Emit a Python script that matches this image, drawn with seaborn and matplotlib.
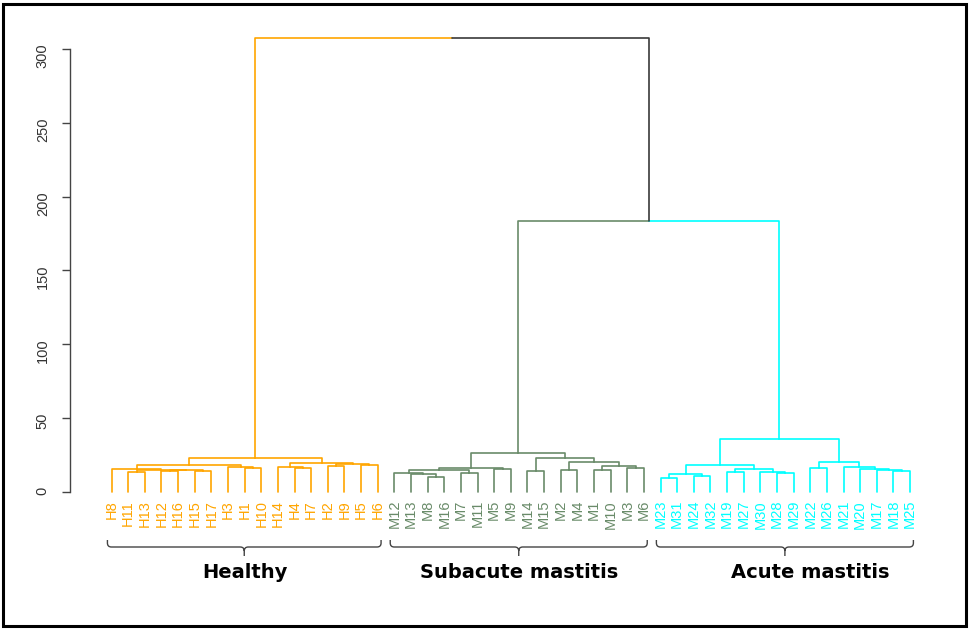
import numpy as np
import pandas as pd
import matplotlib
matplotlib.use("Agg")
import matplotlib.pyplot as plt
from matplotlib.path import Path
from matplotlib.patches import PathPatch, Rectangle
import seaborn as sns

# ---- data -------------------------------------------------------------
leaf_labels = [
    "H8", "H11", "H13", "H12", "H16", "H15", "H17", "H3", "H1", "H10",
    "H14", "H4", "H7", "H2", "H9", "H5", "H6",
    "M12", "M13", "M8", "M16", "M7", "M11", "M5", "M9", "M14", "M15",
    "M2", "M4", "M1", "M10", "M3", "M6",
    "M23", "M31", "M24", "M32", "M19", "M27", "M30", "M28", "M29", "M22",
    "M26", "M21", "M20", "M17", "M18", "M25",
]
group_names = ["Healthy", "Subacute mastitis", "Acute mastitis"]
group_sizes = [17, 16, 16]
group_colors = ["#FFA500", "#698B69", "#00FFFF"]
mixed_color = "#3a3a3a"

# Agglomeration steps: a child is a leaf label or the index of an earlier step
merge_left = [
    "H11", "H12", "H15", 1, 0, "H8", "H1", "H3", 5, "H4", "H14", "H2", "H5", 11, 10, 8,
    "M8", "M13", "M12", "M7", 18, "M5", 20, "M14", "M2", "M1", "M3", 25, 24, 23, 22,
    "M23", "M24", 31, "M19", "M28", "M30", 34, 33, "M22", "M18", "M17", "M20", "M21", 39, 38,
    30, 15,
]
merge_right = [
    "H13", "H16", "H17", 2, 3, 4, "H10", 6, 7, "H7", 9, "H9", "H6", 12, 13, 14,
    "M16", 16, 17, "M11", 19, "M9", 21, "M15", "M4", "M10", "M6", 26, 27, 28, 29,
    "M31", "M32", 32, "M27", "M29", 35, 36, 37, "M26", "M25", 40, 41, 42, 43, 44,
    45, 46,
]
merge_height = [
    13.8, 14.2, 14.3, 14.7, 15.1, 15.8, 16.0, 17.0, 18.5, 16.1, 17.1, 17.4, 18.2, 18.8, 19.5, 23.0,
    10.4, 12.0, 12.6, 12.8, 14.9, 15.4, 16.5, 14.2, 14.9, 14.6, 16.0, 17.8, 20.5, 23.0, 26.3,
    9.7, 10.8, 12.0, 13.3, 12.7, 13.8, 15.4, 18.3, 16.5, 14.2, 14.9, 15.6, 16.8, 20.0, 36.0,
    183.5, 307.3,
]
y_ticks = [0, 50, 100, 150, 200, 250, 300]

# ---- tree layout --------------------------------------------------------
leaf_group = np.repeat(np.arange(len(group_sizes)), group_sizes)
leaf_pos = {lab: i for i, lab in enumerate(leaf_labels)}


def node_info(ref, nx, ngroups):
    if isinstance(ref, str):
        return float(leaf_pos[ref]), 0.0, {int(leaf_group[leaf_pos[ref]])}
    return nx[ref], merge_height[ref], ngroups[ref]


nx, ngroups, rows = [], [], []
seg = 0
for k, (a, b, h) in enumerate(zip(merge_left, merge_right, merge_height)):
    xa, ha, ga = node_info(a, nx, ngroups)
    xb, hb, gb = node_info(b, nx, ngroups)
    xk = (xa + xb) / 2.0
    for xc, hc, gc in ((xa, ha, ga), (xb, hb, gb)):
        col = group_colors[next(iter(gc))] if len(gc) == 1 else mixed_color
        for px, py in ((xk, h), (xc, h), (xc, hc)):
            rows.append({"x": px, "y": py, "seg": seg, "color": col})
        seg += 1
    nx.append(xk)
    ngroups.append(ga | gb)

segments = pd.DataFrame(rows)

# ---- figure -------------------------------------------------------------
sns.set_theme(style="white")
plt.rcParams["font.family"] = ["Liberation Sans", "DejaVu Sans"]

W, H = 970, 629
fig = plt.figure(figsize=(W / 100, H / 100), dpi=100)
fig.patch.set_facecolor("white")
ax = fig.add_axes([70 / W, (H - 492) / H, 880 / W, 457.8 / H])
ax.set_xlim(-2.5, 50.4)
ax.set_ylim(0, 310)

palette = {c: c for c in segments["color"].unique()}
sns.lineplot(data=segments, x="x", y="y", units="seg", estimator=None,
             hue="color", palette=palette, sort=False, legend=False,
             linewidth=1.2, ax=ax)
for line in ax.lines:
    line.set_clip_on(False)

# R-style axis: left axis only, ticks rotated
for side in ("top", "right", "bottom"):
    ax.spines[side].set_visible(False)
ax.spines["left"].set_bounds(0, 300)
ax.spines["left"].set_color("#444444")
ax.spines["left"].set_linewidth(1.0)
ax.set_yticks(y_ticks)
ax.set_yticklabels([str(t) for t in y_ticks])
ax.set_xticks([])
ax.tick_params(axis="y", left=True, length=5.5, width=1.0, color="#444444",
               labelrotation=90, labelsize=10.5, labelcolor="#333333", pad=9)
ax.set_xlabel("")
ax.set_ylabel("")
ax.grid(False)

# leaf labels
to_data = ax.transData.inverted()
label_y = to_data.transform((0, H - 500))[1]
for i, lab in enumerate(leaf_labels):
    ax.text(i, label_y, lab, rotation=90, ha="center", va="top", fontsize=10.5,
            color=group_colors[leaf_group[i]], clip_on=False)

# group braces and names
label_shift = [0.0, 0.0, 1.5]
y_tip, y_bar, y_notch, r = H - 540, H - 547, H - 556, 4
start = 0
for g, n in enumerate(group_sizes):
    first, last = start, start + n - 1
    x0 = ax.transData.transform((first - 0.25, 0))[0]
    x1 = ax.transData.transform((last + 0.2, 0))[0]
    xm = (x0 + x1) / 2
    verts = [
        (x0, y_tip), (x0, y_bar + r), (x0, y_bar), (x0 + r, y_bar),
        (xm - r, y_bar), (xm, y_bar), (xm, y_bar - r), (xm, y_notch),
        (x1, y_tip), (x1, y_bar + r), (x1, y_bar), (x1 - r, y_bar),
        (xm + r, y_bar), (xm, y_bar), (xm, y_bar - r),
    ]
    codes = [
        Path.MOVETO, Path.LINETO, Path.CURVE3, Path.CURVE3,
        Path.LINETO, Path.CURVE3, Path.CURVE3, Path.LINETO,
        Path.MOVETO, Path.LINETO, Path.CURVE3, Path.CURVE3,
        Path.LINETO, Path.CURVE3, Path.CURVE3,
    ]
    data_verts = to_data.transform(np.array(verts))
    ax.add_patch(PathPatch(Path(data_verts, codes), fill=False, edgecolor="#444444",
                           linewidth=1.0, clip_on=False))
    cx = (first + last) / 2 + label_shift[g]
    cy = to_data.transform((0, H - 573))[1]
    ax.text(cx, cy, group_names[g], ha="center", va="center", fontsize=14,
            fontweight="bold", family=["DejaVu Sans"], color="black", clip_on=False)
    start += n

# outer frame
fig.add_artist(Rectangle((3 / W, 3 / H), 963 / W, 622 / H, fill=False,
                         edgecolor="black", linewidth=2.2, transform=fig.transFigure))

fig.savefig("out.png", dpi=100, facecolor="white")
